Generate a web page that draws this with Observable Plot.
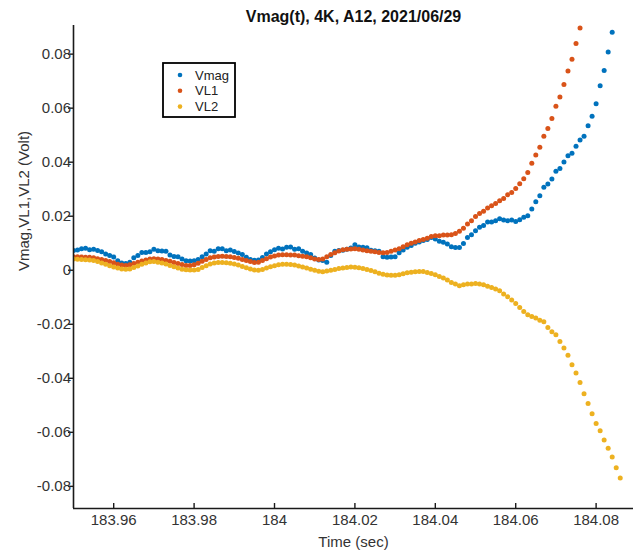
<!DOCTYPE html>
<html>
<head>
<meta charset="utf-8">
<script src="https://cdn.jsdelivr.net/npm/d3@7"></script>
<script src="https://cdn.jsdelivr.net/npm/@observablehq/plot@0.6"></script>
<style>
  html, body { margin: 0; padding: 0; background: #fff; }
  #chart svg { display: block; }
</style>
</head>
<body>
<div id="chart"></div>
<script>
// ---- Data ----
const title = "Vmag(t), 4K, A12, 2021/06/29";
const xLabel = "Time (sec)";
const yLabel = "Vmag,VL1,VL2 (Volt)";

const time = [
  183.950,183.951,183.952,183.953,183.954,183.955,183.956,183.957,183.958,183.959,
  183.960,183.961,183.962,183.963,183.964,183.965,183.966,183.967,183.968,183.969,
  183.970,183.971,183.972,183.973,183.974,183.975,183.976,183.977,183.978,183.979,
  183.980,183.981,183.982,183.983,183.984,183.985,183.986,183.987,183.988,183.989,
  183.990,183.991,183.992,183.993,183.994,183.995,183.996,183.997,183.998,183.999,
  184.000,184.001,184.002,184.003,184.004,184.005,184.006,184.007,184.008,184.009,
  184.010,184.011,184.012,184.013,184.014,184.015,184.016,184.017,184.018,184.019,
  184.020,184.021,184.022,184.023,184.024,184.025,184.026,184.027,184.028,184.029,
  184.030,184.031,184.032,184.033,184.034,184.035,184.036,184.037,184.038,184.039,
  184.040,184.041,184.042,184.043,184.044,184.045,184.046,184.047,184.048,184.049,
  184.050,184.051,184.052,184.053,184.054,184.055,184.056,184.057,184.058,184.059,
  184.060,184.061,184.062,184.063,184.064,184.065,184.066,184.067,184.068,184.069,
  184.070,184.071,184.072,184.073,184.074,184.075,184.076,184.077,184.078,184.079,
  184.080,184.081,184.082,184.083,184.084,184.085,184.086
];

const vmag = [
  0.0073,0.0075,0.0080,0.0081,0.0076,0.0078,0.0073,0.0068,0.0060,0.0055,
  0.0049,0.0035,0.0027,0.0025,0.0030,0.0046,0.0055,0.0066,0.0066,0.0068,
  0.0078,0.0072,0.0071,0.0070,0.0056,0.0051,0.0050,0.0042,0.0035,0.0034,
  0.0035,0.0040,0.0050,0.0060,0.0072,0.0070,0.0080,0.0080,0.0072,0.0075,
  0.0069,0.0064,0.0058,0.0048,0.0040,0.0037,0.0038,0.0047,0.0060,0.0068,
  0.0076,0.0081,0.0079,0.0085,0.0086,0.0078,0.0080,0.0070,0.0064,0.0058,
  0.0045,0.0038,0.0036,0.0030,0.0055,0.0070,0.0073,0.0074,0.0078,0.0082,
  0.0094,0.0086,0.0085,0.0083,0.0074,0.0072,0.0070,0.0050,0.0048,0.0049,
  0.0050,0.0065,0.0075,0.0085,0.0092,0.0100,0.0105,0.0110,0.0114,0.0121,
  0.0116,0.0107,0.0104,0.0097,0.0087,0.0084,0.0084,0.0099,0.0121,0.0131,
  0.0146,0.0159,0.0166,0.0179,0.0179,0.0183,0.0191,0.0186,0.0183,0.0186,
  0.0180,0.0187,0.0196,0.0202,0.0227,0.0254,0.0276,0.0307,0.0319,0.0338,
  0.0366,0.0377,0.0401,0.0424,0.0433,0.0459,0.0482,0.0496,0.0535,0.0570,
  0.0616,0.0683,0.0739,0.0808,0.0881,null,null
];

const vl1 = [
  0.0050,0.0050,0.0049,0.0048,0.0048,0.0046,0.0043,0.0040,0.0036,0.0032,
  0.0028,0.0022,0.0019,0.0018,0.0020,0.0025,0.0030,0.0034,0.0038,0.0042,
  0.0043,0.0042,0.0040,0.0036,0.0033,0.0029,0.0025,0.0021,0.0018,0.0018,
  0.0020,0.0026,0.0033,0.0040,0.0046,0.0049,0.0051,0.0052,0.0051,0.0050,
  0.0047,0.0044,0.0040,0.0036,0.0032,0.0029,0.0030,0.0036,0.0043,0.0049,
  0.0053,0.0056,0.0057,0.0057,0.0056,0.0056,0.0054,0.0052,0.0050,0.0046,
  0.0042,0.0040,0.0042,0.0050,0.0058,0.0065,0.0071,0.0076,0.0078,0.0079,
  0.0080,0.0078,0.0075,0.0072,0.0070,0.0068,0.0066,0.0065,0.0066,0.0070,
  0.0075,0.0080,0.0087,0.0094,0.0100,0.0105,0.0110,0.0114,0.0118,0.0125,
  0.0128,0.0128,0.0130,0.0130,0.0131,0.0136,0.0144,0.0155,0.0171,0.0183,
  0.0199,0.0210,0.0218,0.0230,0.0239,0.0247,0.0257,0.0266,0.0279,0.0288,
  0.0303,0.0320,0.0339,0.0362,0.0396,0.0427,0.0455,0.0496,0.0525,0.0562,
  0.0607,0.0641,0.0688,0.0738,0.0781,0.0839,0.0897,null,null,null,
  null,null,null,null,null,null,null
];

const vl2 = [
  0.0042,0.0041,0.0040,0.0039,0.0038,0.0036,0.0032,0.0027,0.0022,0.0017,
  0.0012,0.0008,0.0005,0.0004,0.0005,0.0010,0.0016,0.0022,0.0027,0.0031,
  0.0032,0.0030,0.0027,0.0023,0.0018,0.0013,0.0008,0.0004,0.0002,0.0001,
  0.0001,0.0003,0.0010,0.0017,0.0023,0.0027,0.0029,0.0029,0.0028,0.0026,
  0.0023,0.0019,0.0014,0.0009,0.0005,0.0001,0.0000,0.0003,0.0008,0.0013,
  0.0017,0.0020,0.0022,0.0022,0.0021,0.0019,0.0016,0.0012,0.0008,0.0004,
  0.0000,-0.0004,-0.0006,-0.0003,0.0000,0.0003,0.0006,0.0008,0.0010,0.0012,
  0.0011,0.0009,0.0006,0.0003,-0.0001,-0.0006,-0.0011,-0.0015,-0.0018,-0.0019,
  -0.0019,-0.0017,-0.0013,-0.0009,-0.0007,-0.0006,-0.0005,-0.0005,-0.0008,-0.0012,
  -0.0017,-0.0023,-0.0029,-0.0036,-0.0045,-0.0051,-0.0057,-0.0054,-0.0051,-0.0051,
  -0.0049,-0.0051,-0.0054,-0.0059,-0.0064,-0.0069,-0.0076,-0.0088,-0.0098,-0.0110,
  -0.0123,-0.0138,-0.0153,-0.0165,-0.0171,-0.0177,-0.0185,-0.0191,-0.0212,-0.0228,
  -0.0239,-0.0264,-0.0288,-0.0315,-0.0350,-0.0380,-0.0416,-0.0457,-0.0493,-0.0531,
  -0.0567,-0.0594,-0.0628,-0.0659,-0.0691,-0.0731,-0.0769
];

const seriesNames = ["Vmag", "VL1", "VL2"];
const seriesColors = ["#0072BD", "#D95319", "#EDB120"];

const xDomain = [183.95, 184.0893];
const yDomain = [-0.0882, 0.0906];
const xTicks = [183.96, 183.98, 184, 184.02, 184.04, 184.06, 184.08];
const xTickLabels = ["183.96", "183.98", "184", "184.02", "184.04", "184.06", "184.08"];
const yTicks = [-0.08, -0.06, -0.04, -0.02, 0, 0.02, 0.04, 0.06, 0.08];
const yTickLabels = ["-0.08", "-0.06", "-0.04", "-0.02", "0", "0.02", "0.04", "0.06", "0.08"];

// ---- Build table ----
const seriesValues = [vmag, vl1, vl2];
const rows = [];
seriesNames.forEach((name, s) => {
  seriesValues[s].forEach((v, i) => {
    if (v !== null) rows.push({t: time[i], v, series: name});
  });
});

const axisColor = "#1a1a1a";
const font = "'Liberation Sans', Arial, Helvetica, sans-serif";

const chart = Plot.plot({
  width: 633,
  height: 556,
  marginLeft: 73,
  marginRight: 0,
  marginTop: 25,
  marginBottom: 48,
  style: {fontFamily: font, fontSize: "15px", color: "#333", background: "#fff", overflow: "visible"},
  x: {domain: xDomain},
  y: {domain: yDomain},
  color: {domain: seriesNames, range: seriesColors},
  marks: [
    Plot.dot(rows, {x: "t", y: "v", fill: "series", r: 2.5, stroke: null, clip: true}),
    // axis lines (left & bottom only, like the reference)
    Plot.ruleX([xDomain[0]], {stroke: axisColor, strokeWidth: 1.6}),
    Plot.ruleY([yDomain[0]], {stroke: axisColor, strokeWidth: 1.6}),
    // y ticks (outward) + labels
    Plot.axisY({ticks: yTicks, tickSize: 5, tickPadding: -2.5, stroke: axisColor, strokeWidth: 1.4,
      tickFormat: d => yTickLabels[yTicks.indexOf(d)], label: null, fill: "#333"}),
    // x ticks (inward)
    Plot.axisX({ticks: xTicks, tickSize: -5, stroke: axisColor, strokeWidth: 1.4, fill: "none", label: null}),
    // x tick labels
    Plot.axisX({ticks: xTicks, tickSize: 0, tickPadding: 6, fill: "#333",
      tickFormat: d => xTickLabels[xTicks.indexOf(d)], label: null}),
    // title and axis labels
    Plot.text([title], {frameAnchor: "top", dy: -9, fontWeight: "bold", fontSize: 16, fill: "#111", lineAnchor: "middle"}),
    Plot.text([xLabel], {frameAnchor: "bottom", dy: 34, fontSize: 15, fill: "#333", lineAnchor: "middle"}),
    Plot.text([yLabel], {frameAnchor: "left", dx: -49, dy: 4, rotate: -90, fontSize: 15, fill: "#333", lineAnchor: "middle"})
  ]
});

// ---- Legend box (drawn inside the SVG) ----
const svg = d3.select(chart);
const lg = svg.append("g").attr("font-family", font).attr("font-size", 13).attr("text-anchor", "start");
lg.append("rect").attr("x", 163).attr("y", 63).attr("width", 72).attr("height", 54)
  .attr("fill", "#fff").attr("stroke", "#000").attr("stroke-width", 1.8);
seriesNames.forEach((name, i) => {
  const cy = 75 + i * 15.8;
  lg.append("circle").attr("cx", 180).attr("cy", cy).attr("r", 2.3).attr("fill", seriesColors[i]);
  lg.append("text").attr("x", 195).attr("y", cy).attr("dy", "0.35em").attr("text-anchor", "start")
    .attr("fill", "#222").text(name);
});

document.getElementById("chart").appendChild(chart);
</script>
</body>
</html>
